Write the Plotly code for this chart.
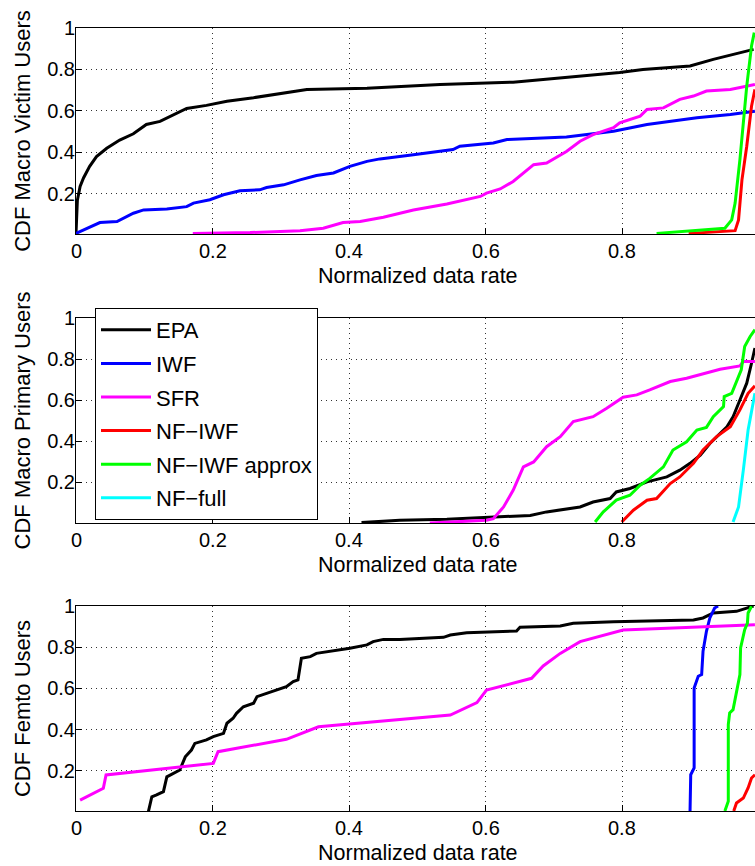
import plotly.graph_objects as go

# ---------------- data ----------------
# Panel 1: CDF Macro Victim Users
p1_epa_x = [0, 0.002, 0.006, 0.011, 0.02, 0.03, 0.045, 0.064, 0.084, 0.103, 0.123, 0.147, 0.162, 0.191, 0.221, 0.26, 0.294, 0.338, 0.426, 0.474, 0.533, 0.64, 0.728, 0.796, 0.83, 0.899, 0.933, 0.962, 0.992]
p1_epa_y = [0.01, 0.17, 0.236, 0.277, 0.333, 0.38, 0.42, 0.46, 0.49, 0.535, 0.55, 0.59, 0.612, 0.627, 0.647, 0.664, 0.68, 0.704, 0.709, 0.717, 0.728, 0.739, 0.765, 0.785, 0.80, 0.817, 0.849, 0.873, 0.897]
p1_iwf_x = [0, 0.016, 0.035, 0.06, 0.084, 0.099, 0.133, 0.162, 0.172, 0.196, 0.216, 0.24, 0.269, 0.279, 0.304, 0.328, 0.352, 0.377, 0.401, 0.426, 0.445, 0.494, 0.552, 0.562, 0.611, 0.631, 0.718, 0.787, 0.836, 0.909, 0.958, 0.994]
p1_iwf_y = [0.01, 0.035, 0.062, 0.067, 0.107, 0.123, 0.127, 0.139, 0.156, 0.172, 0.196, 0.215, 0.22, 0.231, 0.244, 0.268, 0.289, 0.301, 0.333, 0.357, 0.369, 0.389, 0.414, 0.43, 0.446, 0.462, 0.475, 0.502, 0.535, 0.567, 0.583, 0.599]
p1_sfr_x = [0.171, 0.255, 0.328, 0.362, 0.391, 0.416, 0.45, 0.494, 0.543, 0.592, 0.601, 0.621, 0.64, 0.67, 0.689, 0.718, 0.738, 0.757, 0.787, 0.796, 0.826, 0.836, 0.86, 0.884, 0.904, 0.923, 0.958, 0.994]
p1_sfr_y = [0.01, 0.014, 0.023, 0.035, 0.062, 0.067, 0.088, 0.123, 0.152, 0.188, 0.204, 0.224, 0.26, 0.341, 0.349, 0.405, 0.454, 0.486, 0.519, 0.543, 0.575, 0.607, 0.615, 0.656, 0.672, 0.696, 0.704, 0.728]
p1_nfiwf_x = [0.897, 0.965, 0.97, 0.975, 0.982, 0.989, 0.994]
p1_nfiwf_y = [0.01, 0.023, 0.075, 0.268, 0.43, 0.623, 0.704]
p1_nfapx_x = [0.85, 0.928, 0.95, 0.96, 0.965, 0.972, 0.977, 0.982, 0.989, 0.993]
p1_nfapx_y = [0.01, 0.027, 0.035, 0.075, 0.156, 0.365, 0.559, 0.72, 0.913, 0.978]

# Panel 2: CDF Macro Primary Users
p2_epa_x = [0.418, 0.474, 0.543, 0.601, 0.665, 0.689, 0.718, 0.738, 0.757, 0.782, 0.791, 0.811, 0.836, 0.865, 0.884, 0.899, 0.914, 0.928, 0.953, 0.962, 0.972, 0.982, 0.989, 0.994]
p2_epa_y = [0.005, 0.016, 0.021, 0.029, 0.04, 0.057, 0.073, 0.081, 0.105, 0.122, 0.154, 0.171, 0.203, 0.227, 0.26, 0.293, 0.333, 0.39, 0.471, 0.52, 0.601, 0.683, 0.78, 0.854]
p2_sfr_x = [0.518, 0.601, 0.611, 0.626, 0.64, 0.655, 0.67, 0.689, 0.709, 0.728, 0.757, 0.777, 0.801, 0.821, 0.84, 0.87, 0.894, 0.923, 0.943, 0.972, 0.977, 0.994]
p2_sfr_y = [0.003, 0.016, 0.024, 0.081, 0.162, 0.276, 0.30, 0.374, 0.423, 0.496, 0.52, 0.561, 0.615, 0.626, 0.65, 0.691, 0.707, 0.732, 0.751, 0.767, 0.788, 0.788]
p2_nfiwf_x = [0.799, 0.816, 0.836, 0.85, 0.87, 0.884, 0.904, 0.918, 0.938, 0.958, 0.972, 0.984, 0.994]
p2_nfiwf_y = [0.008, 0.065, 0.114, 0.122, 0.195, 0.227, 0.293, 0.358, 0.423, 0.471, 0.553, 0.634, 0.67]
p2_nfapx_x = [0.76, 0.772, 0.791, 0.811, 0.826, 0.84, 0.86, 0.874, 0.894, 0.909, 0.923, 0.933, 0.948, 0.949, 0.96, 0.967, 0.974, 0.979, 0.987, 0.994]
p2_nfapx_y = [0.008, 0.057, 0.114, 0.138, 0.187, 0.22, 0.276, 0.358, 0.398, 0.455, 0.468, 0.52, 0.569, 0.618, 0.634, 0.691, 0.748, 0.861, 0.91, 0.943]
p2_nffull_x = [0.962, 0.97, 0.977, 0.984, 0.994]
p2_nffull_y = [0.008, 0.081, 0.26, 0.455, 0.634]

# Panel 3: CDF Femto Users
p3_epa_x = [0.106, 0.111, 0.118, 0.128, 0.133, 0.142, 0.152, 0.16, 0.169, 0.174, 0.191, 0.201, 0.216, 0.221, 0.23, 0.235, 0.245, 0.26, 0.265, 0.279, 0.294, 0.308, 0.318, 0.325, 0.33, 0.343, 0.352, 0.377, 0.401, 0.426, 0.435, 0.45, 0.474, 0.538, 0.548, 0.572, 0.645, 0.65, 0.709, 0.728, 0.787, 0.904, 0.918, 0.933, 0.967, 0.982, 0.992]
p3_epa_y = [0.002, 0.074, 0.083, 0.099, 0.171, 0.188, 0.204, 0.268, 0.301, 0.333, 0.35, 0.366, 0.382, 0.431, 0.455, 0.479, 0.511, 0.528, 0.56, 0.576, 0.592, 0.608, 0.633, 0.641, 0.746, 0.754, 0.77, 0.782, 0.795, 0.811, 0.827, 0.838, 0.838, 0.848, 0.859, 0.87, 0.879, 0.897, 0.903, 0.916, 0.924, 0.932, 0.942, 0.966, 0.974, 0.99, 1.0]
p3_iwf_x = [0.899, 0.9, 0.905, 0.905, 0.911, 0.916, 0.918, 0.923, 0.928, 0.935, 0.94]
p3_iwf_y = [0.005, 0.181, 0.214, 0.602, 0.659, 0.667, 0.78, 0.877, 0.942, 0.99, 1.0]
p3_sfr_x = [0.006, 0.04, 0.044, 0.201, 0.208, 0.308, 0.355, 0.474, 0.548, 0.587, 0.601, 0.667, 0.684, 0.709, 0.738, 0.801, 0.994]
p3_sfr_y = [0.058, 0.115, 0.18, 0.236, 0.293, 0.353, 0.414, 0.45, 0.471, 0.531, 0.592, 0.649, 0.709, 0.77, 0.827, 0.883, 0.909]
p3_nfiwf_x = [0.963, 0.967, 0.977, 0.984, 0.989, 0.994]
p3_nfiwf_y = [0.005, 0.044, 0.068, 0.117, 0.165, 0.181]
p3_nfapx_x = [0.95, 0.955, 0.955, 0.957, 0.962, 0.967, 0.972, 0.973, 0.979, 0.983, 0.984, 0.989]
p3_nfapx_y = [0.005, 0.052, 0.424, 0.481, 0.497, 0.586, 0.667, 0.796, 0.885, 0.917, 0.966, 0.999]

series_names = ["EPA", "IWF", "SFR", "NF\u2212IWF", "NF\u2212IWF approx", "NF\u2212full"]
series_colors = ["#000000", "#0000ff", "#ff00ff", "#ff0000", "#00ff00", "#00ffff"]

y_titles = ["CDF Macro Victim Users", "CDF Macro Primary Users", "CDF Femto Users"]
x_title = "Normalized data rate"
x_ticks = [0, 0.2, 0.4, 0.6, 0.8, 1]
x_ticktext = ["0", "0.2", "0.4", "0.6", "0.8", "1"]
y_ticks = [0.2, 0.4, 0.6, 0.8, 1]
y_ticktext = ["0.2", "0.4", "0.6", "0.8", "1"]

# ---------------- figure ----------------
FONT = "Liberation Sans, Arial, Helvetica, sans-serif"
fig = go.Figure()

panels = [
    [(0, p1_epa_x, p1_epa_y), (1, p1_iwf_x, p1_iwf_y), (2, p1_sfr_x, p1_sfr_y),
     (3, p1_nfiwf_x, p1_nfiwf_y), (4, p1_nfapx_x, p1_nfapx_y)],
    [(0, p2_epa_x, p2_epa_y), (2, p2_sfr_x, p2_sfr_y), (3, p2_nfiwf_x, p2_nfiwf_y),
     (4, p2_nfapx_x, p2_nfapx_y), (5, p2_nffull_x, p2_nffull_y)],
    [(0, p3_epa_x, p3_epa_y), (1, p3_iwf_x, p3_iwf_y), (2, p3_sfr_x, p3_sfr_y),
     (3, p3_nfiwf_x, p3_nfiwf_y), (4, p3_nfapx_x, p3_nfapx_y)],
]

shown = set()
for pi, traces in enumerate(panels):
    ax = "" if pi == 0 else str(pi + 1)
    for si, xs, ys in traces:
        show = si not in shown
        shown.add(si)
        fig.add_trace(go.Scatter(
            x=xs, y=ys, mode="lines",
            line=dict(color=series_colors[si], width=3),
            name=series_names[si], showlegend=show,
            legendrank=si + 1, legendgroup=series_names[si],
            xaxis="x" + ax, yaxis="y" + ax,
        ))

W, H = 755, 866
mt, mb, ml = 28, 55, 76
ph = H - mt - mb
def py2paper(py):
    return (H - mb - py) / ph

XMAX = 0.9941
domains = [[py2paper(234), py2paper(28)], [py2paper(523), py2paper(318)], [py2paper(811), py2paper(606)]]
ymins = [0.007, 0.003, 0.005]
axis_bottom_py = [234, 523, 811]
XLABEL_GAP = 17     # px below the axis line (centre of tick labels)
XTITLE_GAP = 42     # px below the axis line (centre of axis title)

axis_common = dict(
    showline=True, linecolor="black", linewidth=1,
    ticks="inside", ticklen=6, tickcolor="black", tickwidth=1,
    showgrid=True, gridcolor="#333333", gridwidth=1, griddash="1px,4px",
    zeroline=False, tickfont=dict(family=FONT, size=20, color="black"),
)

layout = dict(
    width=W, height=H, margin=dict(l=ml, r=0, t=mt, b=mb),
    paper_bgcolor="white", plot_bgcolor="white",
    font=dict(family=FONT, size=20, color="black"),
    legend=dict(
        x=(95 - ml) / (W - ml), y=py2paper(308), xanchor="left", yanchor="top",
        bgcolor="white", bordercolor="black", borderwidth=1,
        font=dict(family=FONT, size=22, color="black"),
        itemwidth=50, tracegroupgap=2,
    ),
    showlegend=True,
)
annotations = []
for pi in range(3):
    ax = "" if pi == 0 else str(pi + 1)
    layout["xaxis" + ax] = dict(
        axis_common, domain=[0, 1], range=[0, XMAX], anchor="y" + ax,
        tickvals=x_ticks, ticktext=x_ticktext, mirror=True, showticklabels=False,
    )
    layout["yaxis" + ax] = dict(
        axis_common, domain=domains[pi], range=[ymins[pi], 1], anchor="x" + ax,
        tickvals=y_ticks, ticktext=y_ticktext, mirror=False, ticklabelstandoff=-4,
        title=dict(text=y_titles[pi], font=dict(family=FONT, size=22), standoff=10),
    )
    # x tick labels (placed just below the axis line, like the original)
    for tv, tt in zip(x_ticks, x_ticktext):
        if tv <= XMAX:
            annotations.append(dict(
                text=tt, xref="x" + ax, x=tv, yref="paper",
                y=py2paper(axis_bottom_py[pi] + XLABEL_GAP),
                xanchor="center", yanchor="middle", showarrow=False,
                font=dict(family=FONT, size=20, color="black"),
            ))
    annotations.append(dict(
        text=x_title, xref="x" + ax, x=0.5, yref="paper",
        y=py2paper(axis_bottom_py[pi] + XTITLE_GAP),
        xanchor="center", yanchor="middle", showarrow=False,
        font=dict(family=FONT, size=21.5, color="black"),
    ))
layout["annotations"] = annotations
fig.update_layout(**layout)

fig.write_html("out.html", config={"displayModeBar": False},
               post_script="document.body.style.margin='0';document.body.style.overflow='hidden';")
